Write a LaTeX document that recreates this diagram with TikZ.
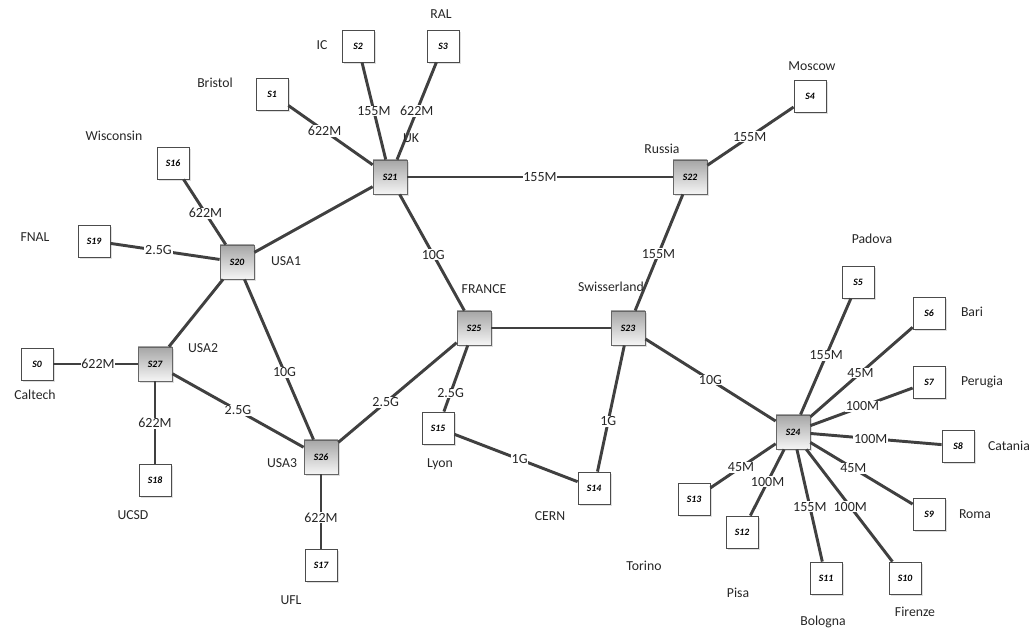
\documentclass[tikz,border=0pt]{standalone}
\usepackage{fontspec}
\setmainfont{Carlito}
\usetikzlibrary{shadows}
\definecolor{edgec}{HTML}{404040}
\begin{document}
\begin{tikzpicture}[x=0.75pt,y=-0.75pt,
  sw/.style={draw=black!70,line width=0.6pt,fill=white,minimum size=24pt,inner sep=0pt,
     font=\fontsize{7.3}{8}\selectfont\bfseries\itshape,
     drop shadow={shadow xshift=1.2pt,shadow yshift=-1.2pt,opacity=0.25}},
  gw/.style={draw=black!60,line width=0.6pt,top color=black!35,bottom color=black!4,minimum size=25.5pt,inner sep=0pt,
     font=\fontsize{7.3}{8}\selectfont\bfseries\itshape,
     drop shadow={shadow xshift=1.5pt,shadow yshift=-1.5pt,opacity=0.25}},
  lnk/.style={draw=edgec,line width=2.2pt},
  el/.style={fill=white,inner sep=0.6pt,font=\fontsize{10.5}{11}\selectfont,text=black!85},
  tl/.style={font=\fontsize{10.3}{11}\selectfont,text=black!85,inner sep=0pt}
]
\useasboundingbox (0,0) rectangle (1036,630);
% core (gray) nodes
\node[gw] (s21) at (390,177) {S21};
\node[gw] (s22) at (690,177) {S22};
\node[gw] (s20) at (237,262) {S20};
\node[gw] (s27) at (155,364) {S27};
\node[gw] (s26) at (321,457) {S26};
\node[gw] (s25) at (474,328) {S25};
\node[gw] (s23) at (628,328) {S23};
\node[gw] (s24) at (793,432) {S24};
% site (white) nodes
\node[sw] (s2) at (358,46) {S2};
\node[sw] (s3) at (443,46) {S3};
\node[sw] (s1) at (272,94) {S1};
\node[sw] (s4) at (810,96) {S4};
\node[sw] (s16) at (173,163) {S16};
\node[sw] (s19) at (94,241) {S19};
\node[sw] (s0) at (37,364) {S0};
\node[sw] (s18) at (155,480) {S18};
\node[sw] (s17) at (321,565) {S17};
\node[sw] (s15) at (438,428) {S15};
\node[sw] (s14) at (594,488) {S14};
\node[sw] (s5) at (858,282) {S5};
\node[sw] (s6) at (929,313) {S6};
\node[sw] (s7) at (929,382) {S7};
\node[sw] (s8) at (958,446) {S8};
\node[sw] (s9) at (929,514) {S9};
\node[sw] (s10) at (905,578) {S10};
\node[sw] (s11) at (826,578) {S11};
\node[sw] (s12) at (742,532) {S12};
\node[sw] (s13) at (694,499) {S13};
% links
\draw[lnk] (s1) -- node[el,pos=0.43]{622M} (s21);
\draw[lnk] (s2) -- node[el,pos=0.5]{155M} (s21);
\draw[lnk] (s3) -- node[el,pos=0.5]{622M} (s21);
\draw[lnk] (s21) -- node[el,pos=0.5]{155M} (s22);
\draw[lnk] (s22) -- node[el,pos=0.49]{155M} (s4);
\draw[lnk] (s16) -- node[el,pos=0.52]{622M} (s20);
\draw[lnk] (s19) -- node[el,pos=0.44]{2.5G} (s20);
\draw[lnk] (s20) -- (s21);
\draw[lnk] (s20) -- (s27);
\draw[lnk] (s21) -- node[el,pos=0.52]{10G} (s25);
\draw[lnk] (s22) -- node[el,pos=0.51]{155M} (s23);
\draw[lnk] (s20) -- node[el,pos=0.58]{10G} (s26);
\draw[lnk] (s27) -- node[el,pos=0.5]{2.5G} (s26);
\draw[lnk] (s0) -- node[el,pos=0.53]{622M} (s27);
\draw[lnk] (s27) -- node[el,pos=0.51]{622M} (s18);
\draw[lnk] (s25) -- node[el,pos=0.6]{2.5G} (s26);
\draw[lnk] (s25) -- node[el,pos=0.72]{2.5G} (s15);
\draw[lnk] (s15) -- node[el,pos=0.53]{1G} (s14);
\draw[lnk] (s23) -- node[el,pos=0.6]{1G} (s14);
\draw[lnk] (s25) -- (s23);
\draw[lnk] (s23) -- node[el,pos=0.5]{10G} (s24);
\draw[lnk] (s26) -- node[el,pos=0.58]{622M} (s17);
\draw[lnk] (s24) -- node[el,pos=0.51]{155M} (s5);
\draw[lnk] (s24) -- node[el,pos=0.49]{45M} (s6);
\draw[lnk] (s24) -- node[el,pos=0.51]{100M} (s7);
\draw[lnk] (s24) -- node[el,pos=0.46]{100M} (s8);
\draw[lnk] (s24) -- node[el,pos=0.42]{45M} (s9);
\draw[lnk] (s24) -- node[el,pos=0.53]{45M} (s13);
\draw[lnk] (s24) -- node[el,pos=0.49]{100M} (s12);
\draw[lnk] (s24) -- node[el,pos=0.51]{155M} (s11);
\draw[lnk] (s24) -- node[el,pos=0.51]{100M} (s10);
% text labels
\node[tl] (tRAL) at (441,14) {RAL};
\node[tl] (tIC) at (322,45) {IC};
\node[tl] (tBristol) at (215,83) {Bristol};
\node[tl] (tMoscow) at (812,66) {Moscow};
\node[tl] (tWisc) at (114,136) {Wisconsin};
\node[tl] (tFNAL) at (35,237) {FNAL};
\node[tl] (tUSA1) at (286,261) {USA1};
\node[tl] (tUSA2) at (203,348) {USA2};
\node[tl] (tCaltech) at (35,395) {Caltech};
\node[tl] (tUCSD) at (133,515) {UCSD};
\node[tl] (tUSA3) at (282,463) {USA3};
\node[tl] (tUFL) at (291,600) {UFL};
\node[tl] (tUK) at (411,138) {UK};
\node[tl] (tRussia) at (662,149) {Russia};
\node[tl] (tFrance) at (484,289) {FRANCE};
\node[tl] (tSwiss) at (611,287) {Swisserland};
\node[tl] (tLyon) at (440,464) {Lyon};
\node[tl] (tCERN) at (550,516) {CERN};
\node[tl] (tPadova) at (872,239) {Padova};
\node[tl] (tBari) at (972,312) {Bari};
\node[tl] (tPerugia) at (982,382) {Perugia};
\node[tl] (tCatania) at (1009,446) {Catania};
\node[tl] (tRoma) at (975,514) {Roma};
\node[tl] (tFirenze) at (915,612) {Firenze};
\node[tl] (tBologna) at (823,622) {Bologna};
\node[tl] (tPisa) at (738,593) {Pisa};
\node[tl] (tTorino) at (644,566) {Torino};
\end{tikzpicture}
\end{document}
